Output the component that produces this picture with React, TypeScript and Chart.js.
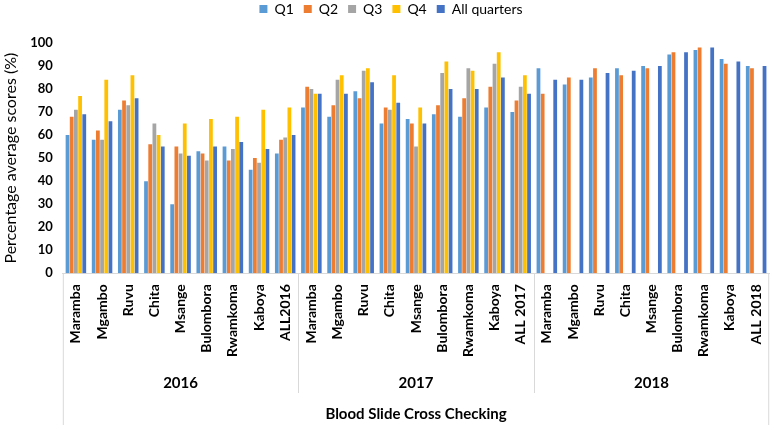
import { useEffect, useRef } from 'react'
import { Chart, registerables } from 'chart.js'

Chart.register(...registerables)

const sites = ['Maramba', 'Mgambo', 'Ruvu', 'Chita', 'Msange', 'Bulombora', 'Rwamkoma', 'Kaboya']
const years = ['2016', '2017', '2018']
const totals = ['ALL2016', 'ALL 2017', 'ALL 2018']
const categories = years.flatMap((y, i) => [...sites, totals[i]])

const q1 = [60, 58, 71, 40, 30, 53, 55, 45, 52, 72, 68, 79, 65, 67, 69, 68, 72, 70, 89, 82, 85, 89, 90, 95, 97, 93, 90]
const q2 = [68, 62, 75, 56, 55, 52, 49, 50, 58, 81, 73, 76, 72, 65, 73, 76, 81, 75, 78, 85, 89, 86, 89, 96, 98, 91, 89]
const q3 = [71, 58, 73, 65, 52, 49, 54, 48, 59, 80, 84, 88, 71, 55, 87, 89, 91, 81, null, null, null, null, null, null, null, null, null]
const q4 = [77, 84, 86, 60, 65, 67, 68, 71, 72, 78, 86, 89, 86, 72, 92, 88, 96, 86, null, null, null, null, null, null, null, null, null]
const allQuarters = [69, 66, 76, 55, 51, 55, 57, 54, 60, 78, 78, 83, 74, 65, 80, 80, 85, 78, 84, 84, 87, 88, 90, 96, 98, 92, 90]

const FONT = 'Lato, "Open Sans", sans-serif'
const LINE = '#d9d9d9'

// extra room under the legend so the plot starts lower
const legendGap = {
  id: 'legendGap',
  beforeInit(chart: any) {
    const fit = chart.legend.fit
    chart.legend.fit = function () {
      fit.call(this)
      this.height += 17
    }
  },
}

// year row, separators and bottom title under the category ticks
const yearBands = {
  id: 'yearBands',
  afterDraw(chart: any) {
    const { ctx, chartArea, scales } = chart
    const x = scales.x
    const half = (x.getPixelForValue(1) - x.getPixelForValue(0)) / 2
    const per = sites.length + 1
    const base = chartArea.bottom
    const bottom = chart.height
    const yearY = bottom - 42
    const sepEnd = bottom - 32

    ctx.save()
    ctx.strokeStyle = LINE
    ctx.lineWidth = 1
    ctx.beginPath()
    ctx.moveTo(chartArea.left + 0.5, base)
    ctx.lineTo(chartArea.left + 0.5, bottom)
    ctx.moveTo(chartArea.right - 0.5, base)
    ctx.lineTo(chartArea.right - 0.5, bottom)
    for (let i = 1; i < years.length; i++) {
      const px = Math.round(x.getPixelForValue(i * per) - half) + 0.5
      ctx.moveTo(px, base)
      ctx.lineTo(px, sepEnd)
    }
    ctx.stroke()

    ctx.fillStyle = '#000'
    ctx.textAlign = 'center'
    ctx.textBaseline = 'middle'
    ctx.font = `bold 15px ${FONT}`
    years.forEach((yr, i) => {
      const l = x.getPixelForValue(i * per) - half
      const r = x.getPixelForValue(i * per + per - 1) + half
      ctx.fillText(yr, (l + r) / 2, yearY)
    })
    ctx.fillText('Blood Slide Cross Checking', (chartArea.left + chartArea.right) / 2, bottom - 11)
    ctx.restore()
  },
}

export default function App() {
  const canvasRef = useRef<HTMLCanvasElement>(null)

  useEffect(() => {
    document.body.style.margin = '0'
    if (!canvasRef.current) return
    const ctx = canvasRef.current.getContext('2d')
    if (!ctx) return

    const series = [
      { label: 'Q1', data: q1, color: '#5B9BD5' },
      { label: 'Q2', data: q2, color: '#ED7D31' },
      { label: 'Q3', data: q3, color: '#A5A5A5' },
      { label: 'Q4', data: q4, color: '#FFC000' },
      { label: 'All quarters', data: allQuarters, color: '#4472C4' },
    ]

    const chart = new Chart(ctx, {
      type: 'bar',
      data: {
        labels: categories,
        datasets: series.map((s) => ({
          label: s.label,
          data: s.data,
          backgroundColor: s.color,
          borderWidth: 0,
          categoryPercentage: 0.8,
          barPercentage: 0.9,
        })),
      },
      options: {
        responsive: true,
        maintainAspectRatio: false,
        animation: false,
        layout: { padding: { top: -8, right: 3, bottom: 57, left: 1 } },
        plugins: {
          legend: {
            position: 'top',
            labels: {
              boxWidth: 8,
              boxHeight: 8,
              padding: 10,
              color: '#000',
              font: { family: FONT, size: 14 },
            },
          },
          tooltip: { enabled: false },
        },
        scales: {
          x: {
            grid: { display: false, drawTicks: false },
            border: { display: true, color: LINE },
            ticks: {
              autoSkip: false,
              maxRotation: 90,
              minRotation: 90,
              color: '#000',
              padding: 11,
              font: { family: FONT, size: 14, weight: 'bold' },
            },
          },
          y: {
            min: 0,
            max: 100,
            grid: { display: false, drawTicks: false },
            border: { display: false },
            ticks: {
              stepSize: 10,
              color: '#000',
              padding: 10,
              font: { family: FONT, size: 13, weight: 'bold' },
            },
            title: {
              display: true,
              text: 'Percentage average scores (%)',
              color: '#000',
              font: { family: FONT, size: 16 },
              padding: { top: 0, bottom: 0 },
            },
          },
        },
      },
      plugins: [legendGap, yearBands],
    })

    return () => {
      chart.destroy()
    }
  }, [])

  return (
    <div style={{ width: 784, height: 425, position: 'relative' }}>
      <canvas ref={canvasRef}></canvas>
    </div>
  )
}
